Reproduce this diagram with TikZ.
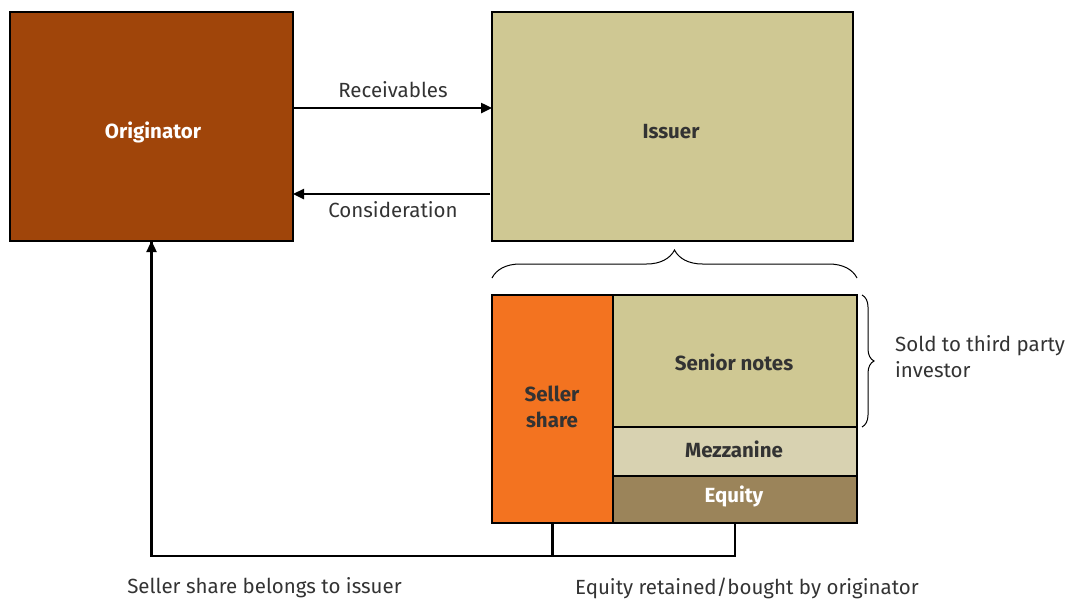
\documentclass[tikz,border=0pt]{standalone}
\usepackage{fontspec}
\setmainfont{Fira Sans}
\usetikzlibrary{calc,arrows.meta,decorations.pathreplacing}
\definecolor{origbrown}{RGB}{160,69,10}
\definecolor{issuertan}{RGB}{207,200,147}
\definecolor{selleror}{RGB}{243,115,32}
\definecolor{mezztan}{RGB}{216,210,177}
\definecolor{equitybr}{RGB}{155,132,90}
\definecolor{txtgrey}{RGB}{51,51,51}
\tikzset{
	box/.style={draw=black, line width=1.1pt, inner sep=0pt, outer sep=0pt},
	boxtxt/.style={font=\fontsize{20.5}{26}\selectfont\bfseries, align=center, inner sep=0pt},
	arr/.style={line width=2.4pt, -{Triangle[length=11pt,width=10pt]}},
	conn/.style={line width=2.4pt},
	lbl/.style={text=txtgrey, font=\fontsize{20.5}{26}\selectfont, inner sep=0pt},
	brc/.style={decorate, decoration={brace, amplitude=#1}, line width=1pt}
}

\begin{document}
\begin{tikzpicture}[x=1pt,y=-1pt]
			%%%%% START %%%%%
			\useasboundingbox (0,0) rectangle (1067,598);
			
			\node[box, fill=origbrown, minimum width=283pt, minimum height=229pt] (orig) at (151.5,126.5) {};
			\node[boxtxt, text=white] (origtxt) at (153,132) {Originator};
			\node[box, fill=issuertan, minimum width=361pt, minimum height=229pt] (issuer) at (672.5,126.5) {};
			\node[boxtxt, text=txtgrey] (issuertxt) at (671,132) {Issuer};
			
			\draw[arr] ($(orig.north east)+(0,96)$) -- ($(issuer.north west)+(0,96)$);
			\node[lbl] (rec) at (393,90) {Receivables};
			\draw[arr] ($(issuer.north west)+(-2,182)$) -- ($(orig.north east)+(0,182)$);
			\node[lbl] (cons) at (393,210) {Consideration};
			
			\node[box, fill=selleror, minimum width=121pt, minimum height=228pt] (seller) at (552.5,409) {};
			\node[boxtxt, text=txtgrey] (sellertxt) at (552,407) {Seller\\share};
			\node[box, fill=issuertan, minimum width=244pt, minimum height=132pt] (senior) at (735,361) {};
			\node[boxtxt, text=txtgrey] (seniortxt) at (734,362) {Senior notes};
			\node[box, fill=mezztan, minimum width=244pt, minimum height=49pt] (mezz) at (735,451.5) {};
			\node[boxtxt, text=txtgrey] (mezztxt) at (734,449) {Mezzanine};
			\node[box, fill=equitybr, minimum width=244pt, minimum height=47pt] (equity) at (735,499.5) {};
			\node[boxtxt, text=white] (equitytxt) at (734,496) {Equity};
			
			\draw[brc=28pt] ($(seller.north west)+(0,-17)$) -- ($(senior.north east)+(0,-17)$);
			\draw[brc=12pt] ($(senior.north east)+(5,0)$) -- ($(senior.south east)+(5,0)$);
			\node[lbl, anchor=west, align=left] (sold) at (895,357) {Sold to third party\\investor};
			
			\draw[conn] (seller.south) -- ++(0,33);
			\draw[conn] (equity.south) -- ++(0,33) -| (orig.south);
			\draw[arr] ($(orig.south)+(0,20)$) -- (orig.south);
			
			\node[lbl] (slab) at (264.5,588) {Seller share belongs to issuer};
			\node[lbl] (elab) at (747,588) {Equity retained/bought by originator};
			%%%%% END %%%%%
\end{tikzpicture}
\end{document}
